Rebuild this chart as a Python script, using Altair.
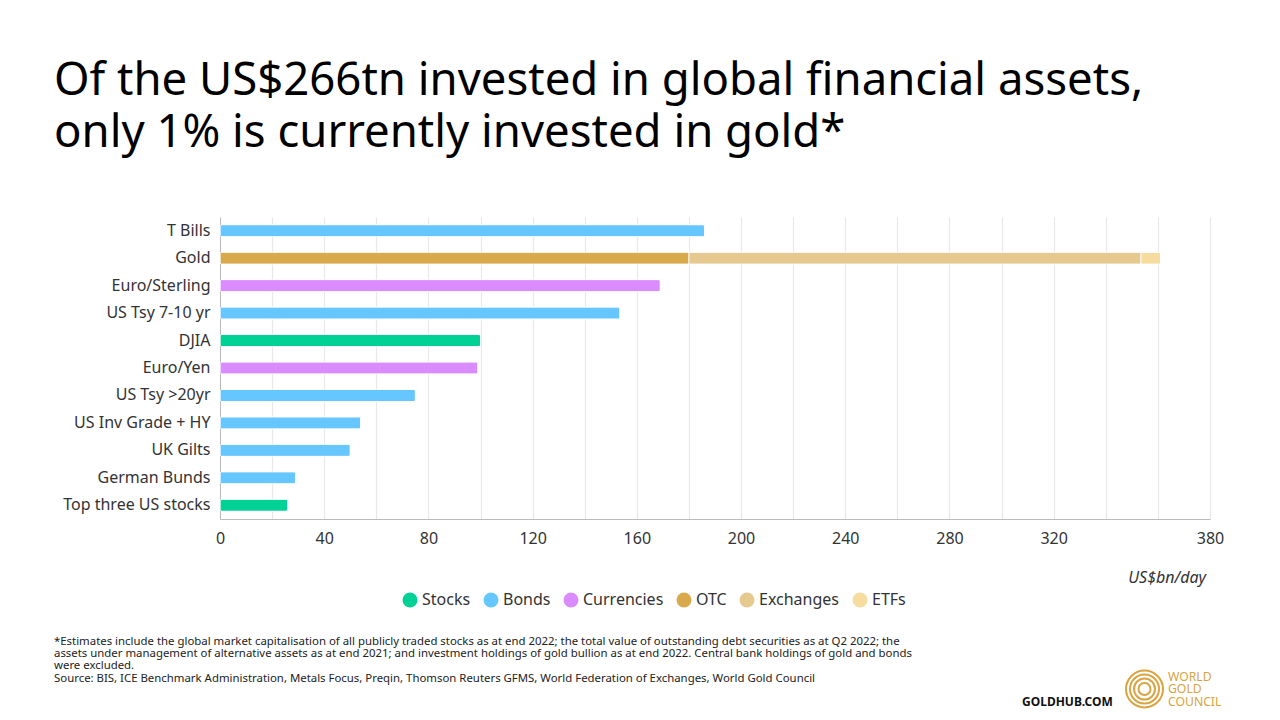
import altair as alt
import pandas as pd

categories = ["T Bills", "Gold", "Euro/Sterling", "US Tsy 7-10 yr", "DJIA", "Euro/Yen",
              "US Tsy >20yr", "US Inv Grade + HY", "UK Gilts", "German Bunds", "Top three US stocks"]
cat_type = ["Bonds", "OTC", "Currencies", "Bonds", "Stocks", "Currencies",
            "Bonds", "Bonds", "Bonds", "Bonds", "Stocks"]
values = [186, 180, 169, 153.5, 100, 99, 75, 54, 50, 29, 26]
gold_extra_types = ["Exchanges", "ETFs"]
gold_extra_values = [173.5, 7.5]

legend_domain = ["Stocks", "Bonds", "Currencies", "OTC", "Exchanges", "ETFs"]
legend_colors = ["#00D296", "#66C6FF", "#DA8BFF", "#D9AA4C", "#E6C98F", "#F6DC9E"]
x_ticks = list(range(0, 381, 20))
x_labels = [0, 40, 80, 120, 160, 200, 240, 280, 320, 380]

title_lines = ["Of the US$266tn invested in global financial assets,",
               "only 1% is currently invested in gold*"]
foot_lines = [
    "*Estimates include the global market capitalisation of all publicly traded stocks as at end 2022; the total value of outstanding debt securities as at Q2 2022; the",
    "assets under management of alternative assets as at end 2021; and investment holdings of gold bullion as at end 2022. Central bank holdings of gold and bonds",
    "were excluded.",
    "Source: BIS, ICE Benchmark Administration, Metals Focus, Preqin, Thomson Reuters GFMS, World Federation of Exchanges, World Gold Council",
]

rows = []
for c, t, v in zip(categories, cat_type, values):
    rows.append({"cat": c, "type": t, "value": v, "ord": 0})
for i, (t, v) in enumerate(zip(gold_extra_types, gold_extra_values)):
    rows.append({"cat": "Gold", "type": t, "value": v, "ord": i + 1})
df = pd.DataFrame(rows)

FONT = "Noto Sans"
W, H = 990, 302

label_test = " || ".join(f"datum.value == {v}" for v in x_labels)

bars = alt.Chart(df).mark_bar(cornerRadius=2, stroke="white", strokeWidth=0.8).encode(
    y=alt.Y("cat:N", sort=categories, title=None,
            scale=alt.Scale(paddingInner=0.56, paddingOuter=0.28),
            axis=alt.Axis(labelFont=FONT, labelFontSize=16, labelColor="#333333",
                          ticks=False, labelPadding=10, domainColor="#BBBBBB", grid=False)),
    x=alt.X("value:Q", stack="zero", title=None,
            scale=alt.Scale(domain=[0, 380], nice=False),
            axis=alt.Axis(values=x_ticks, labelExpr=f"({label_test}) ? datum.label : ''",
                          labelFont=FONT, labelFontSize=16, labelColor="#333333",
                          labelFlush=False, labelOverlap=False, labelBound=False,
                          ticks=False, labelPadding=11, domainColor="#BBBBBB",
                          grid=True, gridColor="#E8E8E8", gridWidth=1.2)),
    color=alt.Color("type:N", scale=alt.Scale(domain=legend_domain, range=legend_colors),
                    legend=alt.Legend(title=None, orient="none", direction="horizontal",
                                      legendX=182, legendY=375, symbolType="circle",
                                      symbolSize=225, symbolStrokeWidth=0,
                                      labelFont=FONT, labelFontSize=16, labelColor="#333333",
                                      columnPadding=12, labelOffset=4, columns=6)),
    order=alt.Order("ord:Q"),
)

def text_layer(txt, x, y, size, color="#000000", weight="normal", style="normal", align="left"):
    return alt.Chart(pd.DataFrame({"t": [txt]})).mark_text(
        font=FONT, fontSize=size, color=color, fontWeight=weight, fontStyle=style,
        align=align, baseline="alphabetic"
    ).encode(text="t:N", x=alt.value(x), y=alt.value(y))

layers = [bars]
layers.append(text_layer(title_lines[0], -166, -122, 45.5))
layers.append(text_layer(title_lines[1], -166, -70, 45.5))
for i, line in enumerate(foot_lines):
    layers.append(text_layer(line, -166, 427.5 + i * 12.4, 11.4, color="#222222"))
layers.append(text_layer("US$bn/day", 986, 366, 16, color="#333333", style="italic", align="right"))
layers.append(text_layer("GOLDHUB.COM", 802, 489, 12, color="#111111", weight="bold"))
for i, w in enumerate(["WORLD", "GOLD", "COUNCIL"]):
    layers.append(text_layer(w, 948, 463.5 + i * 12.5, 12.2, color="#D9A441"))

ring_sizes = [1369, 841, 441, 144]
rings = alt.Chart(pd.DataFrame({"s": ring_sizes})).mark_point(
    shape="circle", filled=False, stroke="#D9A441", strokeWidth=2, opacity=1
).encode(x=alt.value(924.5), y=alt.value(472), size=alt.Size("s:Q", scale=None, legend=None))
layers.append(rings)

chart = alt.layer(*layers).properties(
    width=W, height=H,
    autosize=alt.AutoSizeParams(type="none"),
    padding={"left": 220, "top": 217, "right": 70, "bottom": 201},
    background="white",
).configure_view(stroke=None)

chart.save("out.html", embed_options={"renderer": "svg", "actions": False})
